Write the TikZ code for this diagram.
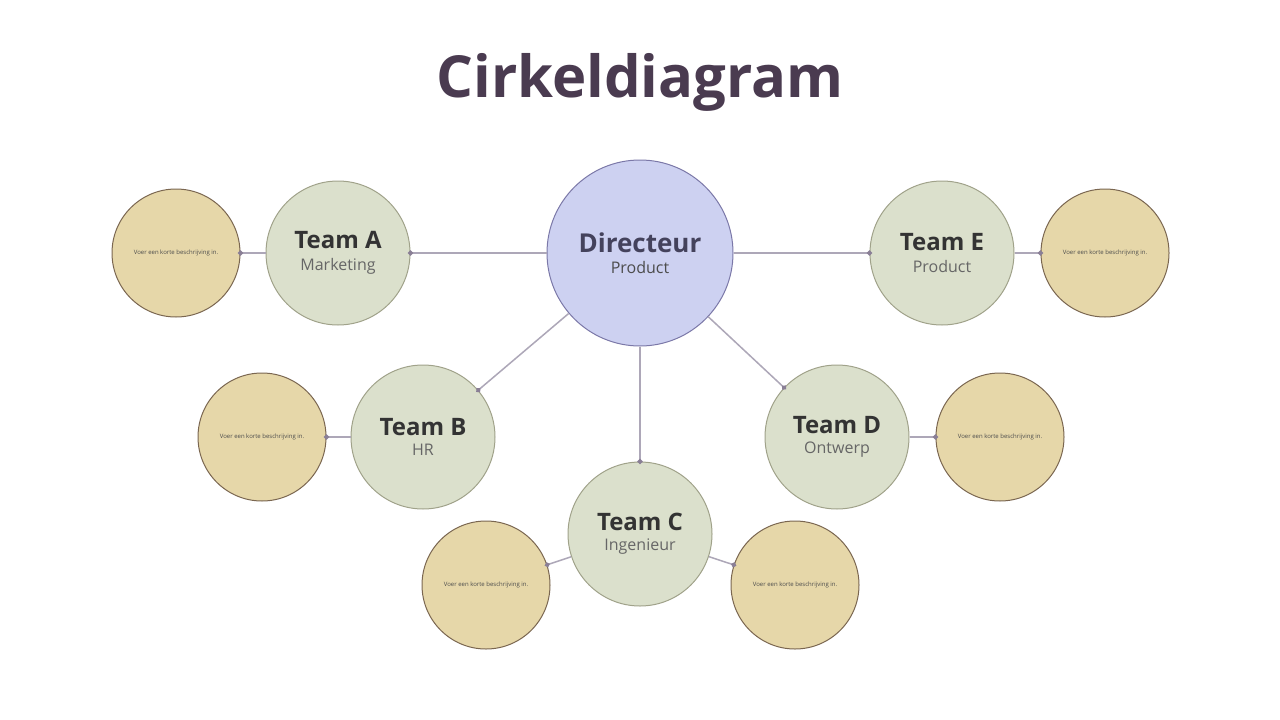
\documentclass[tikz,border=0pt]{standalone}
\usepackage{fontspec}
\setmainfont{Open Sans}
\usetikzlibrary{arrows.meta}
\definecolor{titlecol}{HTML}{4A3B50}
\definecolor{dirfill}{HTML}{CDD1F1}
\definecolor{dirline}{HTML}{7B78A8}
\definecolor{teamfill}{HTML}{DBE0CC}
\definecolor{teamline}{HTML}{A0A28A}
\definecolor{descfill}{HTML}{E6D7A9}
\definecolor{descline}{HTML}{7A6650}
\definecolor{linkcol}{HTML}{ADA7B8}
\definecolor{dotcol}{HTML}{8A7F96}
\tikzset{
  director/.style={circle, fill=dirfill, draw=dirline, line width=1pt, minimum size=186pt, inner sep=0pt, align=center},
  team/.style={circle, fill=teamfill, draw=teamline, line width=1pt, minimum size=144pt, inner sep=0pt, align=center},
  desc/.style={circle, fill=descfill, draw=descline, line width=1pt, minimum size=128pt, inner sep=0pt,
    font=\fontsize{6}{7}\selectfont, text=black!70},
  link/.style={draw=linkcol, line width=1.5pt, -{Circle[length=5pt, width=5pt, fill=dotcol, color=dotcol]}, shorten >=-2.5pt},
}
\newcommand{\teamtext}[2]{{\fontsize{24}{26}\selectfont\bfseries\color{black!80}#1}\\[8pt]{\fontsize{16}{18}\selectfont\color{black!60}#2}}
\begin{document}
\begin{tikzpicture}[x=1pt, y=-1pt]
  \useasboundingbox[fill=white] (0,0) rectangle (1280,720);
  % title
  \node (title) [text=titlecol, font=\fontsize{58}{64}\selectfont\bfseries] at (640,82) {Cirkeldiagram};
  % nodes
  \node (dir) [director] at (640,253) {{\fontsize{26}{28}\selectfont\bfseries\color{dirline!55!black}Directeur}\\[8pt]{\fontsize{16}{18}\selectfont\color{black!70}Product}};
  \node (teamA) [team] at (338,253) {\teamtext{Team A}{Marketing}};
  \node (teamB) [team] at (423,437) {\teamtext{Team B}{HR}};
  \node (teamC) [team] at (640,534) {\teamtext{Team C}{Ingenieur}};
  \node (teamD) [team] at (837,437) {\teamtext{Team D}{Ontwerp}};
  \node (teamE) [team] at (942,253) {\teamtext{Team E}{Product}};
  \node (descA) [desc] at (176,253) {Voer een korte beschrijving in.};
  \node (descB) [desc] at (262,437) {Voer een korte beschrijving in.};
  \node (descC1) [desc] at (486,585) {Voer een korte beschrijving in.};
  \node (descC2) [desc] at (795,585) {Voer een korte beschrijving in.};
  \node (descD) [desc] at (1000,437) {Voer een korte beschrijving in.};
  \node (descE) [desc] at (1105,253) {Voer een korte beschrijving in.};
  % connectors
  \draw[link] (dir) -- (teamA);
  \draw[link] (dir) -- (teamB);
  \draw[link] (dir) -- (teamC);
  \draw[link] (dir) -- (teamD);
  \draw[link] (dir) -- (teamE);
  \draw[link] (teamA) -- (descA);
  \draw[link] (teamB) -- (descB);
  \draw[link] (teamC) -- (descC1);
  \draw[link] (teamC) -- (descC2);
  \draw[link] (teamD) -- (descD);
  \draw[link] (teamE) -- (descE);
\end{tikzpicture}
\end{document}
